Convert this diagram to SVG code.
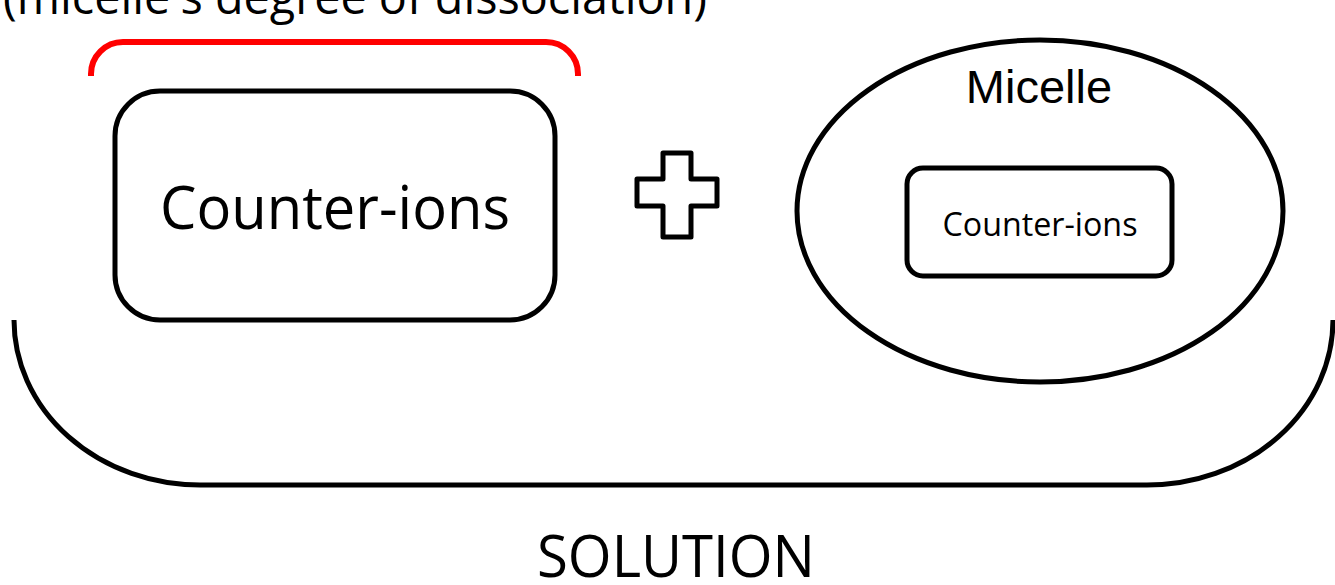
<svg xmlns="http://www.w3.org/2000/svg" width="1335" height="585" viewBox="0 0 1335 585">
<style>
.s{fill:none;stroke:#000;stroke-width:5;stroke-linejoin:round}
.t{font-family:"Open Sans","Noto Sans",sans-serif;fill:#000}
.a{font-family:"Liberation Sans",Arial,sans-serif;fill:#000}
</style>
<rect width="1335" height="585" fill="#fff"/>
<g id="label-dissociation">
<text class="t" x="3" y="14" font-size="48" textLength="704" lengthAdjust="spacingAndGlyphs">(micelle's degree of dissociation)</text>
</g>
<g id="connectors">
<path id="red-bracket" d="M91,76 L91,74 A32,32 0 0 1 123,42 L546,42 A32,32 0 0 1 578,74 L578,76" fill="none" stroke="#f00" stroke-width="6"/>
<path id="solution-bracket" class="s" d="M14,320 A186,165 0 0 0 200,485 L1147,485 A186,165 0 0 0 1333,320"/>
</g>
<g id="free-counter-ions">
<rect class="s" x="115" y="91" width="440" height="229" rx="45"/>
<text class="t" x="335" y="229" font-size="60" text-anchor="middle" textLength="350" lengthAdjust="spacingAndGlyphs">Counter-ions</text>
</g>
<g id="plus">
<path class="s" d="M663,153 L691,153 L691,179 L717,179 L717,206 L691,206 L691,237 L663,237 L663,206 L637,206 L637,179 L663,179 Z"/>
</g>
<g id="micelle">
<ellipse class="s" cx="1040" cy="211" rx="243" ry="171"/>
<text class="a" x="1039" y="103" font-size="47" text-anchor="middle">Micelle</text>
</g>
<g id="bound-counter-ions">
<rect class="s" x="907" y="168" width="265" height="108" rx="16"/>
<text class="t" x="1040" y="236" font-size="33" text-anchor="middle" textLength="195" lengthAdjust="spacingAndGlyphs">Counter-ions</text>
</g>
<g id="label-solution">
<text class="t" x="676" y="577" font-size="59" text-anchor="middle" textLength="278" lengthAdjust="spacingAndGlyphs">SOLUTION</text>
</g>
</svg>
